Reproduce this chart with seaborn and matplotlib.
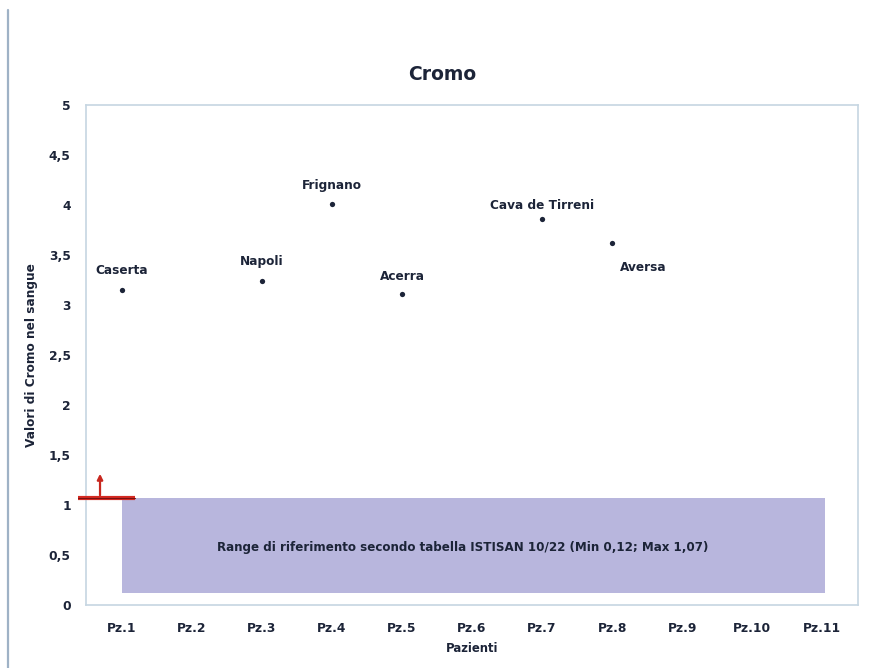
import matplotlib
matplotlib.use("Agg")
import matplotlib.pyplot as plt
from matplotlib.lines import Line2D
import seaborn as sns
import pandas as pd

# Patients on the x axis
patients = ["Pz.1", "Pz.2", "Pz.3", "Pz.4", "Pz.5", "Pz.6",
            "Pz.7", "Pz.8", "Pz.9", "Pz.10", "Pz.11"]

# Measured chromium values (only patients with a result)
measured_patients = ["Pz.1", "Pz.3", "Pz.4", "Pz.5", "Pz.7", "Pz.8"]
towns = ["Caserta", "Napoli", "Frignano", "Acerra", "Cava de Tirreni", "Aversa"]
chromium = [3.15, 3.24, 4.01, 3.11, 3.86, 3.62]

# Reference range
ref_min = 0.12
ref_max = 1.07
ref_text = "Range di riferimento secondo tabella ISTISAN 10/22 (Min 0,12; Max 1,07)"

y_ticks = [0, 0.5, 1, 1.5, 2, 2.5, 3, 3.5, 4, 4.5, 5]
y_tick_labels = ["0", "0,5", "1", "1,5", "2", "2,5", "3", "3,5", "4", "4,5", "5"]

df = pd.DataFrame({"Paziente": measured_patients, "Cromo": chromium, "Comune": towns})

sns.set_theme(style="white")
plt.rcParams["font.family"] = ["DejaVu Sans"]

ink = "#1c2438"

fig = plt.figure(figsize=(8.75, 6.68), dpi=100)
ax = fig.add_axes([0.0983, 0.0943, 0.8823, 0.7485])

# Reference band
ax.fill_between([0, len(patients) - 0.96], ref_min, ref_max,
                color="#b8b6dd", edgecolor="none", zorder=1)
ax.text(4.87, 0.58, ref_text,
        ha="center", va="center", fontsize=8.6, fontweight="bold",
        color=ink, zorder=3)

sns.stripplot(data=df, x="Paziente", y="Cromo", order=patients, jitter=False,
              color=ink, size=3.8, marker="o", linewidth=0, ax=ax, zorder=4)

# Point labels
offsets = {"Caserta": (0, 0.2), "Napoli": (0, 0.2),
           "Frignano": (0, 0.19), "Acerra": (0, 0.18),
           "Cava de Tirreni": (0, 0.14), "Aversa": (0.44, -0.24)}
pos = {p: i for i, p in enumerate(patients)}
for p, v, t in zip(measured_patients, chromium, towns):
    dx, dy = offsets[t]
    ax.text(pos[p] + dx, v + dy, t, ha="center", va="center", fontsize=8.7,
            fontweight="bold", color=ink, zorder=5)

# Maximum of the reference range marked on the y axis
ax.plot([-0.63, 0.19], [ref_max, ref_max], color="#d42a22", lw=3.0,
        solid_capstyle="butt", clip_on=False, zorder=6)
ax.plot([-0.63, 0.19], [ref_max, ref_max], color="#7a1010", lw=0.8,
        clip_on=False, zorder=7)
ax.annotate("", xy=(-0.31, 1.34), xytext=(-0.31, ref_max),
            arrowprops=dict(arrowstyle="-|>", color="#c8281f", lw=1.6,
                            mutation_scale=8),
            annotation_clip=False, zorder=7)

ax.set_xlim(-0.51, len(patients) - 0.49)
ax.set_ylim(0, 5)
ax.set_yticks(y_ticks)
ax.set_yticklabels(y_tick_labels)
ax.tick_params(axis="both", labelsize=8.8, colors=ink, length=3,
               color="#c0ccd8", width=0.8, direction="out")
for lab in ax.get_xticklabels() + ax.get_yticklabels():
    lab.set_fontweight("bold")
ax.tick_params(axis="x", pad=9)
ax.tick_params(axis="y", pad=8)

ax.set_xlabel("Pazienti", fontsize=8.4, fontweight="bold", color=ink, labelpad=5)
ax.set_ylabel("Valori di Cromo nel sangue", fontsize=8.7, fontweight="bold",
              color=ink, labelpad=8)
ax.set_title("Cromo", fontsize=13.5, fontweight="bold", color=ink, pad=18,
             x=0.461)

for side in ["left", "right", "top", "bottom"]:
    ax.spines[side].set_visible(True)
    ax.spines[side].set_color("#c6d6e2")
    ax.spines[side].set_linewidth(1.2)
ax.grid(False)

# Page border line at the left edge
fig.add_artist(Line2D([0.0092, 0.0092], [0.0, 0.985], color="#9fb2c6", lw=1.6,
                      transform=fig.transFigure))

fig.savefig("out.png", dpi=100, facecolor="white")
